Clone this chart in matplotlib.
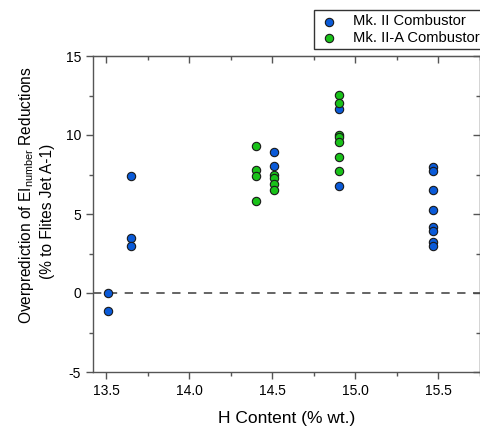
import matplotlib
matplotlib.use("Agg")
import matplotlib.pyplot as plt
from matplotlib.ticker import MultipleLocator, FormatStrFormatter

plt.rcParams['font.family'] = ['Liberation Sans', 'DejaVu Sans']
plt.rcParams['mathtext.fontset'] = 'custom'
plt.rcParams['mathtext.rm'] = 'Liberation Sans'
plt.rcParams['mathtext.it'] = 'Liberation Sans'
plt.rcParams['axes.unicode_minus'] = False

# Data
mk2_x = [13.51, 13.51, 13.65, 13.65, 13.65, 14.51, 14.51,
         14.90, 14.90,
         15.47, 15.47, 15.47, 15.47, 15.47, 15.47, 15.47, 15.47]
mk2_y = [0.0, -1.15, 7.4, 3.5, 2.95, 8.9, 8.05,
         11.65, 6.8,
         7.95, 7.7, 6.5, 5.25, 4.2, 3.95, 3.2, 2.97]
mk2a_x = [14.40, 14.40, 14.40, 14.40, 14.51, 14.51, 14.51, 14.51,
          14.90, 14.90, 14.90, 14.90, 14.90, 14.90, 14.90]
mk2a_y = [9.3, 7.8, 7.4, 5.85, 7.5, 7.3, 6.9, 6.5,
          12.55, 12.05, 10.0, 9.85, 9.55, 8.6, 7.75]

labels = ["Mk. II Combustor", "Mk. II-A Combustor"]
blue = "#0a5ad8"
green = "#19c219"

W, H = 481, 430
fig = plt.figure(figsize=(W/100, H/100), dpi=100)
ax = fig.add_axes([92.7/W, 1-372/H, (480-92.7)/W, (372-56)/H])

ax.axhline(0, color="#4a4a4a", lw=1.2, ls=(0, (5, 4.5)), zorder=1)

h1 = ax.scatter(mk2_x, mk2_y, s=36, c=blue, edgecolors="#1a1a1a", linewidths=0.8, zorder=3)
h2 = ax.scatter(mk2a_x, mk2a_y, s=36, c=green, edgecolors="#1a1a1a", linewidths=0.8, zorder=3)

ax.set_xlim(13.42, 15.75)
ax.set_ylim(-5, 15)
ax.xaxis.set_major_locator(MultipleLocator(0.5))
ax.xaxis.set_minor_locator(MultipleLocator(0.25))
ax.yaxis.set_major_locator(MultipleLocator(5))
ax.yaxis.set_minor_locator(MultipleLocator(2.5))
ax.xaxis.set_major_formatter(FormatStrFormatter('%.1f'))

spine_col = "#555555"
for s in ax.spines.values():
    s.set_color(spine_col)
    s.set_linewidth(1.0)

ax.tick_params(axis='both', which='both', colors=spine_col, labelcolor='black', labelsize=10)
ax.tick_params(axis='x', which='major', direction='out', length=5, width=1, top=False)
ax.tick_params(axis='x', which='minor', direction='out', length=3, width=1, top=False)
ax.tick_params(axis='y', which='major', direction='out', length=5, width=1, right=False)
ax.tick_params(axis='y', which='minor', direction='out', length=3, width=1, right=False)

# inward ticks on top and right
secx = ax.secondary_xaxis('top')
secx.xaxis.set_major_locator(MultipleLocator(0.5))
secx.xaxis.set_minor_locator(MultipleLocator(0.25))
secx.tick_params(which='major', direction='in', length=5, width=1, colors=spine_col, labeltop=False)
secx.tick_params(which='minor', direction='in', length=3, width=1, colors=spine_col)
secx.spines['top'].set_color(spine_col)
secy = ax.secondary_yaxis('right')
secy.yaxis.set_major_locator(MultipleLocator(5))
secy.yaxis.set_minor_locator(MultipleLocator(2.5))
secy.tick_params(which='major', direction='in', length=5, width=1, colors=spine_col, labelright=False)
secy.tick_params(which='minor', direction='in', length=3, width=1, colors=spine_col)
secy.spines['right'].set_color(spine_col)

fig.text(287/W, 1-418/H, "H Content (% wt.)", fontsize=12.5, ha='center', va='center')
fig.text(27/W, 1-195/H, "Overprediction of EI$_\\mathregular{number}$ Reductions",
         fontsize=11.2, rotation=90, ha='center', va='center')
fig.text(48/W, 1-211/H, "(% to Flites Jet A-1)",
         fontsize=11.2, rotation=90, ha='center', va='center')

leg = fig.legend([h1, h2], labels, loc='upper left',
                 bbox_to_anchor=(314/W, 1-10/H), frameon=True, fancybox=False,
                 edgecolor='black', fontsize=10.6, handletextpad=0.85, borderpad=0.3,
                 labelspacing=0.15, handlelength=1.5, borderaxespad=0)
leg.get_frame().set_linewidth(1.0)

fig.savefig("out.png", dpi=100)
